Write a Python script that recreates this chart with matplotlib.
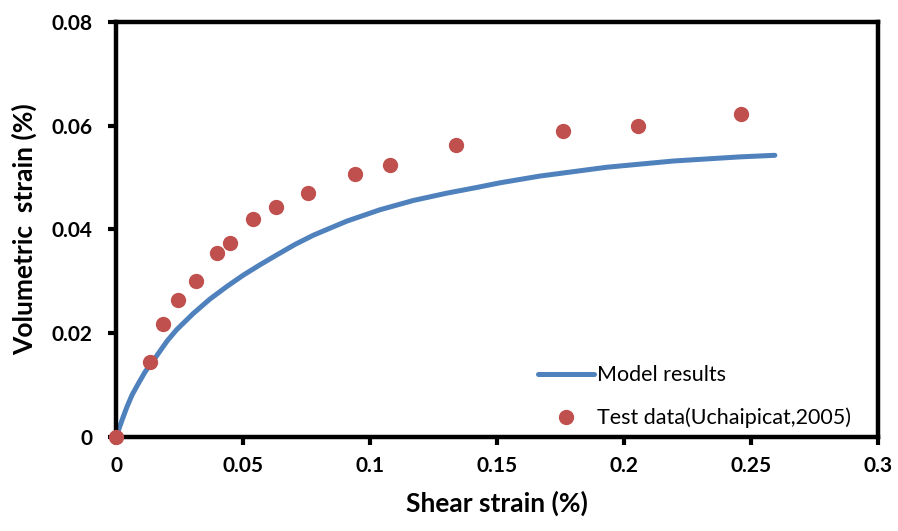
import matplotlib
matplotlib.use("Agg")
import matplotlib.pyplot as plt
from matplotlib.ticker import FuncFormatter

# model curve
model_shear = [0.0, 0.0024, 0.0043, 0.0063, 0.0089, 0.0115, 0.0155, 0.0201, 0.0239,
               0.0304, 0.037, 0.0436, 0.0501, 0.0567, 0.0633, 0.0704, 0.0777, 0.0908,
               0.1039, 0.1171, 0.1302, 0.142, 0.1512, 0.1669, 0.1932, 0.2194, 0.2457,
               0.2594]
model_vol = [0.0, 0.0033, 0.0058, 0.0081, 0.0104, 0.0126, 0.0153, 0.0185, 0.0207,
             0.0238, 0.0266, 0.0290, 0.0312, 0.0332, 0.0351, 0.0371, 0.0389, 0.0416,
             0.0438, 0.0456, 0.0470, 0.0481, 0.0490, 0.0503, 0.0520, 0.0532, 0.0540,
             0.0543]

# test data (Uchaipicat, 2005)
test_shear = [0.0, 0.0134, 0.0185, 0.0244, 0.0315, 0.0398, 0.0449, 0.054, 0.063,
              0.0756, 0.094, 0.108, 0.134, 0.176, 0.2055, 0.246]
test_vol = [0.0, 0.0145, 0.0218, 0.0264, 0.0301, 0.0355, 0.0374, 0.042, 0.0443,
            0.047, 0.0507, 0.0524, 0.0563, 0.059, 0.060, 0.0623]

plt.rcParams['font.family'] = ['Lato', 'DejaVu Sans']

fig = plt.figure(figsize=(8.98, 5.31), dpi=100)
ax = fig.add_axes([0.1292, 0.177, 0.8485, 0.7816])

ax.plot(model_shear, model_vol, color='#4F81BD', lw=3.6, label='Model results',
        solid_capstyle='round', solid_joinstyle='round', zorder=2)
ax.plot(test_shear, test_vol, 'o', color='#C0504D', ms=10, mec='#C0504D',
        label='Test data(Uchaipicat,2005)', zorder=3, clip_on=False)

ax.set_xlim(0, 0.3)
ax.set_ylim(0, 0.08)
ax.set_xticks([0, 0.05, 0.1, 0.15, 0.2, 0.25, 0.3])
ax.set_yticks([0, 0.02, 0.04, 0.06, 0.08])
fmt = FuncFormatter(lambda v, p: '0' if v == 0 else ('%g' % v))
ax.xaxis.set_major_formatter(fmt)
ax.yaxis.set_major_formatter(fmt)

for s in ax.spines.values():
    s.set_linewidth(3.2)
ax.tick_params(direction='out', length=6, width=3, labelsize=15)
ax.tick_params(axis='x', pad=8)
ax.tick_params(axis='y', pad=11)
for lbl in ax.get_xticklabels() + ax.get_yticklabels():
    lbl.set_fontweight('bold')

ax.set_xlabel('Shear strain (%)', fontsize=19, fontweight='bold', labelpad=10)
ax.set_ylabel('Volumetric  strain (%)', fontsize=19, fontweight='bold', labelpad=10)

ax.legend(loc='lower right', frameon=False, fontsize=15.5, handlelength=2.6,
          handletextpad=0.15, labelspacing=1.05, borderaxespad=0,
          bbox_to_anchor=(0.976, 0.0))

fig.savefig('out.png', dpi=100)
